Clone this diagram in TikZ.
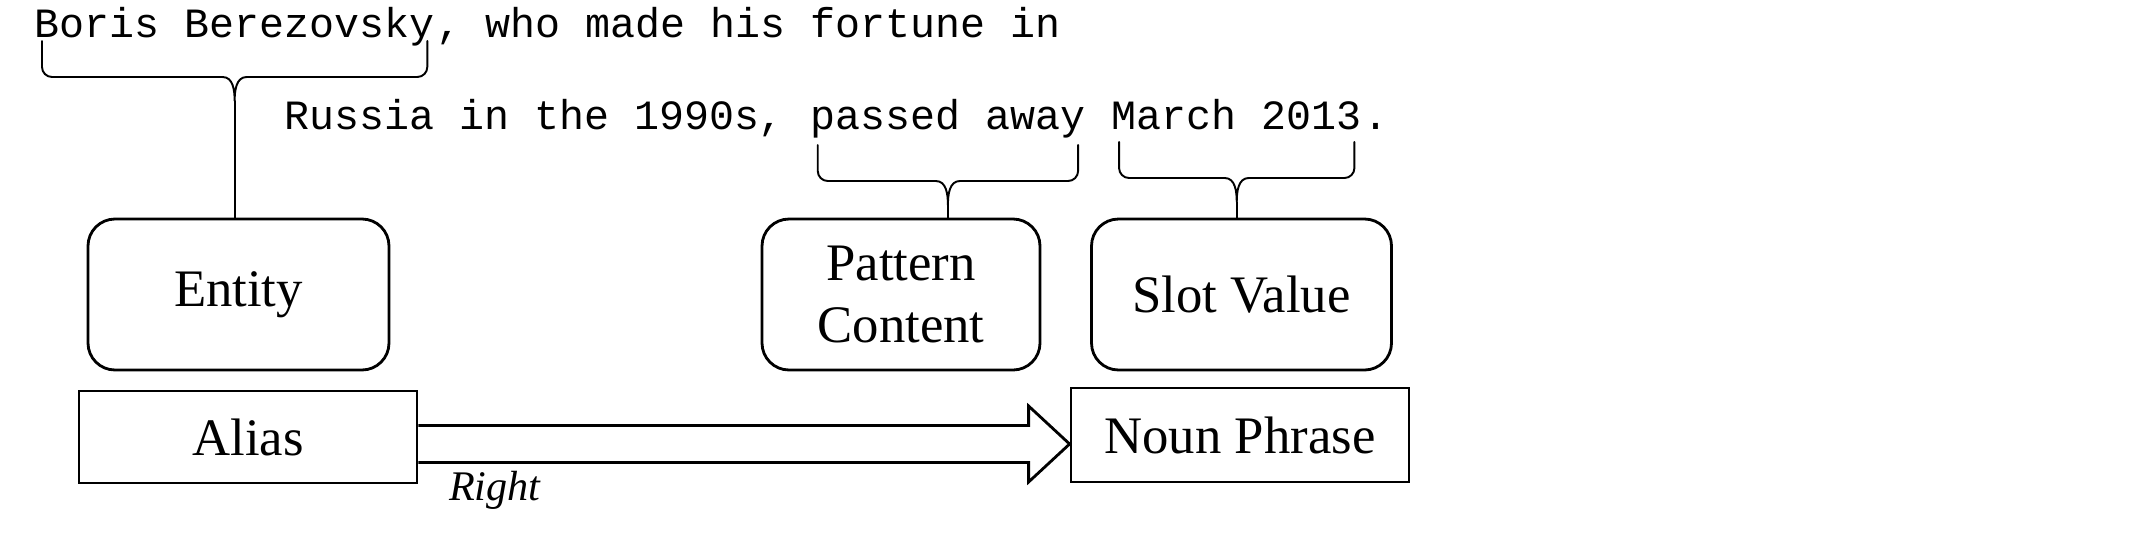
\documentclass[tikz,border=0pt]{standalone}
\usepackage{fontspec}
\setmainfont{Liberation Serif}
\setmonofont{Liberation Mono}
\usetikzlibrary{positioning,calc}

\begin{document}
\begin{tikzpicture}[
  sent/.style={font=\ttfamily\fontsize{11.85}{14}\selectfont,inner sep=0pt,anchor=base west},
  roundbox/.style={draw,line width=0.8pt,rounded corners=0.27cm,align=center,
                   minimum height=1.51cm,font=\fontsize{15}{17.5}\selectfont},
  flatbox/.style={draw,line width=0.8pt,minimum width=3.38cm,font=\fontsize{15}{17.5}\selectfont},
  brace line/.style={line width=0.55pt,line cap=round},
  fat arrow/.style={draw,line width=0.8pt,line join=miter},
  lbl/.style={font=\itshape\fontsize{12}{14}\selectfont,inner sep=0pt}]
\useasboundingbox (0,0) rectangle (21.45,-5.45);
% --- helper: curly brace under a span of the sentence ------------------
% #1 span node, #2 gap below its baseline, #3 name of the tip
\def\wordbrace#1#2#3{%
  \draw[brace line] ([xshift=0.08cm,yshift=-#2]#1.base west) -- ++(0,-0.26)
    arc[start angle=180,end angle=270,radius=0.1]
    -- ([xshift=-0.12cm,yshift=-#2-0.36cm]#1.base)
    to[out=0,in=90] ([yshift=-#2-0.6cm]#1.base) coordinate (#3)
    to[out=90,in=180] ([xshift=0.12cm,yshift=-#2-0.36cm]#1.base)
    -- ([xshift=-0.18cm,yshift=-#2-0.36cm]#1.base east)
    arc[start angle=270,end angle=360,radius=0.1] -- ++(0,0.26);}
% sentence, split where the braces go
\node[sent] (boris) at (0.34,-0.37) {Boris Berezovsky};
\node[sent] (rest1) at (boris.base east) {, who made his fortune in};
\node[sent] (russia) at (2.835,-1.29) {Russia in the 1990s,};
\node[sent] (passed) at ([xshift=7.11pt]russia.base east) {passed away};
\node[sent] (march) at ([xshift=7.11pt]passed.base east) {March 2013};
\node[sent] (stop) at (march.base east) {.};
% boxes
\node[roundbox,minimum width=3.01cm] (entity) at (2.385,-2.945) {Entity};
\node[roundbox,minimum width=2.78cm] (pattern) at (9.01,-2.945) {Pattern\\Content};
\node[roundbox,minimum width=3.0cm] (slot) at (12.415,-2.945) {Slot Value};
\node[flatbox,minimum height=0.92cm] (alias) at (2.48,-4.37) {Alias};
\node[flatbox,minimum height=0.94cm] (noun) at (12.40,-4.35) {Noun Phrase};
% braces and their stems
\wordbrace{boris}{0.04cm}{t1}
\wordbrace{passed}{0.16cm}{t2}
\wordbrace{march}{0.13cm}{t3}
\draw[brace line] (t1) -- (t1 |- entity.north);
\draw[brace line] (t2) -- (t2 |- pattern.north);
\draw[brace line] (t3) -- (t3 |- slot.north);
% block arrow alias -> noun phrase
\coordinate (tail) at ($(alias.east)+(0,-0.07)$);
\coordinate (tip) at (noun.west |- tail);
\draw[fat arrow] ($(tail)+(0,0.185)$) -- ($(tip)+(-0.41,0.185)$) -- ($(tip)+(-0.41,0.38)$)
  -- (tip) -- ($(tip)+(-0.41,-0.38)$) -- ($(tip)+(-0.41,-0.185)$) -- ($(tail)+(0,-0.185)$);
\node[lbl,anchor=north west] (right) at ($(tail)+(0.30,-0.27)$) {Right};
\end{tikzpicture}
\end{document}
